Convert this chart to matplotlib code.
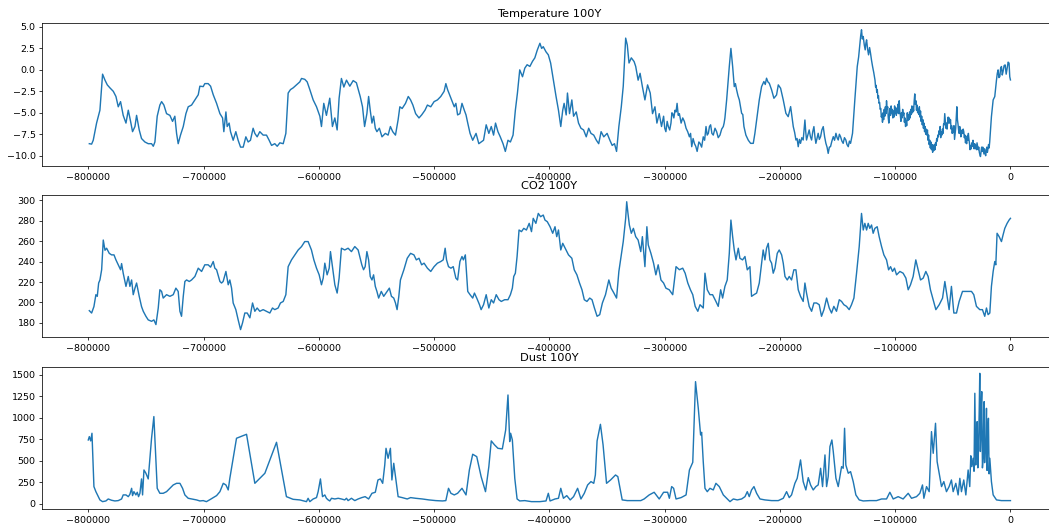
import matplotlib
matplotlib.use("Agg")
import matplotlib.pyplot as plt
import numpy as np

# ages in thousands of years (negative = before present)
temp_age = [
    -799.1, -797.1, -795.7, -792.8, -789.9, -787.6, -785.5, -783.5, -781.2, -778.3,
    -776.0, -774.0, -772.0, -769.7, -767.3, -765.3, -763.3, -761.6, -759.5, -758.1,
    -755.8, -753.8, -750.9, -748.0, -745.1, -743.6, -742.2, -740.2, -737.9, -736.4,
    -734.4, -732.1, -729.2, -726.9, -724.9, -723.4, -722.0, -720.0, -717.6, -715.3,
    -713.3, -710.4, -707.5, -704.6, -703.2, -700.3, -698.9, -696.0, -693.9, -691.6,
    -688.7, -685.8, -683.5, -682.4, -680.6, -679.5, -677.8, -676.6, -674.3, -672.0,
    -670.0, -667.9, -665.6, -663.3, -661.3, -659.3, -657.0, -655.5, -653.5, -651.2,
    -648.3, -645.4, -643.1, -641.0, -638.2, -636.1, -633.8, -630.9, -628.6, -626.6,
    -624.6, -622.3, -619.4, -616.5, -615.0, -612.2, -610.1, -607.8, -604.9, -602.0,
    -599.1, -597.7, -595.7, -593.4, -590.5, -588.2, -586.1, -584.1, -582.4, -580.4,
    -578.3, -576.0, -573.1, -570.2, -567.4,
    -564.1, -562.1, -560.3, -558.3, -556.8, -555.4, -553.9, -552.5, -551.0, -549.6,
    -547.5, -545.2, -542.3, -539.9, -537.9, -535.9, -533.5, -531.2, -529.7, -527.7,
    -524.8, -522.4, -520.4, -518.4, -516.0, -513.1, -510.8, -507.9, -505.8, -502.9,
    -500.0, -497.1, -494.2, -491.3, -489.8, -488.3, -485.4, -482.5, -481.1, -479.6,
    -477.6, -475.8, -473.8, -472.3, -470.8, -468.8, -466.5, -463.6, -461.2, -459.1,
    -457.1, -454.8, -452.5, -450.4, -448.4, -446.7, -444.6, -442.6, -440.2, -438.2,
    -435.9, -433.8, -431.5, -429.5, -427.7, -425.7, -423.3, -421.3, -419.3, -416.9,
    -414.6, -412.6, -410.5, -408.2, -406.7, -405.3, -402.9, -400.9, -398.9, -396.5,
    -394.2, -392.1, -390.1, -388.4, -387.2, -385.4, -384.3, -382.5, -380.5, -379.0,
    -376.7, -374.7, -372.6, -370.3, -368.0, -365.9, -363.9, -361.5, -359.2, -357.2,
    -355.1, -352.8, -349.9, -347.5, -345.5, -343.5, -341.7, -339.7, -337.6, -335.9,
    -333.8, -332.4, -330.9, -328.9, -326.5, -325.1, -323.0, -321.3, -319.3, -317.1,
    -314.8, -312.5, -310.5, -308.4, -306.7, -304.7, -302.7,
    -300.9, -299.9, -298.9, -297.8, -296.8, -295.6, -294.5, -293.7, -293.0, -292.0,
    -291.0, -290.1, -289.2, -288.2, -287.2, -285.7, -284.3, -282.9, -281.4, -280.0,
    -278.5, -277.5, -276.5, -275.3, -274.1, -273.0, -271.8, -270.3,
    -269.3, -267.9, -266.5, -265.3, -264.1, -263.1, -262.1, -261.1, -260.1, -259.0,
    -257.8, -256.3, -254.9, -253.5, -252.0, -250.5, -249.1, -248.4, -247.7, -246.2,
    -243.9, -242.5, -241.0, -239.6, -238.6, -237.6, -236.4, -235.2, -233.2, -232.2,
    -231.2, -229.5, -227.4, -225.4, -223.1, -221.7, -220.2, -217.9, -215.9, -213.9,
    -212.7, -211.6, -210.4, -209.2, -207.2, -205.2, -202.9, -201.4, -199.4, -197.1,
    -194.8, -192.8, -190.7, -188.4, -187.2, -186.1, -185.1, -184.1, -183.1, -182.1,
    -181.0, -179.8, -179.0, -178.3, -177.6, -176.9, -175.8, -174.6, -173.5, -172.5,
    -171.5, -170.5, -169.6, -168.8, -167.8, -166.8, -165.8, -164.7, -163.6, -162.4,
    -161.2, -160.1, -159.1, -158.1, -157.1, -156.1, -154.9, -153.7, -152.6, -151.4,
    -150.4, -149.4, -148.4, -147.4, -146.2, -145.1, -144.0, -142.8, -141.8, -140.7,
    -139.7, -138.7, -137.9, -137.0, -135.0, -132.9, -131.7, -130.6, -129.9, -129.2,
    -128.5, -127.7, -126.8, -126.0, -125.4, -124.8, -123.9, -123.1, -122.2, -121.4,
    -120.5, -119.6, -118.6,
    -117.5, -117.0, -116.5, -116.0, -115.5, -115.0, -114.5, -114.0, -113.5, -113.0,
    -112.5, -112.0, -111.5, -111.0, -110.5, -110.0, -109.5, -109.0, -108.5, -108.0,
    -107.5, -107.0, -106.5, -106.0, -105.5, -105.0, -104.5, -104.0, -103.5, -103.0,
    -102.5, -102.0, -101.5, -101.0, -100.5, -100.0, -99.5, -99.0, -98.5, -98.0,
    -97.5, -97.0, -96.5, -96.0, -95.5, -95.0, -94.5, -94.0, -93.5, -93.0,
    -92.5, -92.0, -91.5, -91.0, -90.5, -90.0, -89.5, -89.0, -88.5, -88.0,
    -87.5, -87.0, -86.5, -86.0, -85.5, -85.0, -84.5, -84.0, -83.5, -83.0,
    -82.5, -82.0, -81.5, -81.0, -80.5, -80.0, -79.5, -79.0, -78.5, -78.0,
    -77.5, -77.0, -76.5, -76.0, -75.5, -75.0, -74.5, -74.0, -73.5, -73.0,
    -72.5, -72.0, -71.5, -71.0, -70.5, -70.0, -69.5, -69.0, -68.5, -68.0,
    -67.5, -67.0, -66.5, -66.0, -65.5, -65.0, -64.5, -64.0, -63.5, -63.0,
    -62.5, -62.0, -61.5, -61.0, -60.5, -60.0, -59.5, -59.0, -58.5, -58.0,
    -57.5, -57.0, -56.5, -56.0, -55.5, -55.0, -54.5, -54.0, -53.5, -53.0,
    -52.5, -52.0, -51.5, -51.0, -50.5, -50.0, -49.5, -49.0, -48.5, -48.0,
    -47.5, -47.0, -46.5, -46.0, -45.5, -45.0, -44.5, -44.0, -43.5, -43.0,
    -42.5, -42.0, -41.5, -41.0, -40.5, -40.0, -39.5, -39.0, -38.5, -38.0,
    -37.5, -37.0, -36.5, -36.0, -35.5, -35.0, -34.5, -34.0, -33.5, -33.0,
    -32.5, -32.0, -31.5, -31.0, -30.5, -30.0, -29.5, -29.0, -28.5, -28.0,
    -27.5, -27.0, -26.5, -26.0, -25.5, -25.0, -24.5, -24.0, -23.5, -23.0,
    -22.5, -22.0, -21.5, -21.0, -20.5, -20.0, -19.5, -19.0, -18.5, -18.0,
    -16.5, -15.0, -13.6, -12.1, -11.4, -10.7, -10.0, -9.2, -8.5, -7.8,
    -7.1, -6.4, -5.5, -4.6, -3.7, -2.9, -2.0, -1.2, -0.6, 0.0,
]
temp_val = [
    -8.6, -8.65, -8.2, -6.2, -4.7, -0.5, -1.2, -1.75, -2.1, -2.5,
    -3.1, -4.3, -3.7, -5.3, -6.2, -4.7, -6.0, -7.2, -6.6, -5.3,
    -7.0, -8.0, -8.4, -8.6, -8.6, -8.9, -8.4, -5.4, -4.1, -3.7,
    -4.1, -5.1, -5.3, -6.0, -5.4, -7.4, -8.6, -7.6, -6.6, -5.1,
    -4.3, -4.1, -3.5, -2.9, -1.9, -1.95, -1.6, -1.6, -1.9, -2.9,
    -3.9, -5.1, -5.6, -7.2, -4.9, -6.6, -6.2, -7.2, -8.2, -7.2,
    -8.2, -9.0, -9.0, -7.8, -8.4, -8.2, -6.8, -7.4, -7.8, -7.2,
    -7.6, -7.6, -8.2, -8.8, -8.6, -8.9, -8.5, -8.6, -7.4, -2.7,
    -2.3, -2.1, -1.75, -1.4, -1.0, -1.1, -1.4, -2.3, -3.5, -4.3,
    -5.4, -6.6, -3.9, -5.3, -3.3, -6.6, -5.6, -7.0, -3.3, -1.0,
    -2.0, -1.2, -1.9, -1.25, -1.5,
    -3.1, -4.3, -6.6, -5.1, -3.1, -4.7, -6.2, -5.4, -6.8, -7.2,
    -6.8, -7.8, -7.4, -7.6, -6.6, -7.2, -7.6, -5.8, -4.3, -4.5,
    -3.9, -3.1, -3.5, -4.1, -5.1, -5.6, -5.25, -4.7, -4.1, -4.3,
    -3.7, -3.5, -3.1, -2.5, -1.6, -2.3, -3.3, -4.3, -3.9, -5.25,
    -5.1, -3.9, -4.7, -5.25, -6.2, -7.4, -8.2, -7.4, -8.6, -8.4,
    -8.2, -6.4, -7.4, -6.6, -7.6, -6.2, -7.2, -7.8, -8.6, -9.5,
    -8.2, -8.4, -7.6, -4.7, -2.7, 0.0, -0.8, 0.2, 0.6, 0.4,
    1.0, 1.4, 2.3, 3.1, 2.5, 2.7, 2.1, 1.75, 0.8, -1.2,
    -3.1, -4.7, -6.6, -4.7, -3.9, -5.25, -2.7, -5.1, -3.5, -5.4,
    -4.9, -6.2, -6.8, -7.0, -7.8, -6.8, -7.4, -7.6, -8.2, -8.6,
    -7.2, -7.8, -7.4, -8.2, -8.8, -8.6, -9.5, -6.6, -4.3, -1.9,
    3.7, 2.9, 0.8, 1.4, 0.97, 0.4, -1.2, -0.4, -1.95, -3.5,
    -1.75, -2.7, -5.1, -4.3, -6.2, -5.1, -6.6,
    -5.4, -6.8, -7.2, -6.0, -6.6, -7.0, -6.2, -5.0, -5.1, -5.6,
    -4.7, -4.9, -3.9, -5.3, -5.1, -6.2, -5.6, -6.0, -6.8, -7.2,
    -7.8, -7.4, -8.95, -8.0, -8.6, -8.9, -9.5, -8.4,
    -8.56, -9.0, -7.8, -8.2, -6.6, -7.6, -7.4, -6.6, -6.4, -7.4,
    -7.6, -6.8, -7.2, -7.9, -7.6, -6.9, -6.6, -6.2, -5.6, -3.5,
    0.4, 2.5, 0.4, -1.95, -1.6, -2.3, -3.0, -3.5, -5.06, -5.2,
    -6.6, -7.6, -8.2, -8.56, -8.56, -7.4, -5.84, -3.5, -1.95, -1.36,
    -1.7, -0.97, -1.4, -1.56, -2.33, -3.31, -2.92, -1.75, -2.14, -3.5,
    -5.06, -5.45, -4.28, -6.61, -7.3, -8.17, -8.0, -8.95, -8.1, -8.56,
    -7.9, -8.17, -7.0, -5.84, -7.2, -8.17, -7.6, -7.0, -7.8, -8.17,
    -7.2, -6.61, -7.8, -8.56, -8.0, -7.39, -8.1, -7.78, -7.0, -6.61,
    -7.8, -8.56, -9.0, -9.73, -9.0, -8.95, -8.3, -7.78, -8.2, -7.39,
    -7.9, -8.17, -7.5, -7.78, -8.3, -8.56, -7.9, -8.17, -8.7, -8.95,
    -8.3, -8.56, -8.0, -7.39, -3.5, 0.39, 1.5, 3.11, 4.0, 4.67,
    3.6, 3.89, 2.9, 2.33, 3.1, 3.5, 2.4, 1.75, 2.6, 1.95,
    1.1, 0.39, -0.3,
    -1.2, -2.0, -1.8, -2.6, -2.3, -3.3, -3.0, -3.9, -3.8, -4.6,
    -4.5, -5.5, -5.2, -6.1, -5.0, -5.8, -4.6, -5.4, -4.3, -5.1,
    -3.6, -4.6, -4.3, -5.6, -6.2, -5.4, -4.5, -5.3, -4.2, -5.0,
    -4.6, -5.6, -4.8, -5.5, -4.2, -5.0, -4.4, -5.3, -4.6, -5.0,
    -4.0, -5.1, -3.6, -4.9, -5.3, -6.0, -5.0, -5.6, -4.6, -5.3,
    -5.0, -6.1, -5.6, -6.6, -5.9, -6.5, -5.0, -5.9, -5.2, -5.8,
    -4.9, -5.6, -4.6, -5.2, -4.2, -5.0, -4.3, -4.8, -3.6, -2.8,
    -4.0, -3.6, -4.7, -4.1, -5.0, -4.6, -5.2, -4.3, -5.5, -4.8,
    -6.0, -5.4, -6.4, -5.8, -6.8, -6.2, -7.2, -6.6, -7.5, -6.9,
    -7.6, -7.0, -8.2, -7.6, -8.7, -8.2, -9.1, -8.4, -9.3, -8.7,
    -9.6, -8.8, -9.4, -8.7, -9.3, -8.5, -8.8, -8.0, -8.3, -7.6,
    -7.8, -7.1, -7.5, -6.6, -7.9, -7.2, -7.6, -6.9, -7.4, -6.3,
    -6.4, -5.1, -6.0, -6.8, -6.2, -6.9, -6.1, -5.5, -6.2, -5.6,
    -6.2, -5.8, -6.9, -6.5, -7.4, -6.8, -7.3, -6.5, -8.1, -7.4,
    -6.8, -5.6, -4.3, -5.8, -6.3, -7.0, -7.4, -6.6, -7.1, -7.8,
    -7.5, -7.0, -7.4, -6.9, -7.2, -7.9, -7.6, -8.5, -8.0, -8.6,
    -7.7, -8.2, -7.4, -8.1, -8.6, -9.3, -8.8, -9.2, -8.5, -8.9,
    -8.2, -8.8, -9.2, -8.6, -9.1, -8.8, -9.3, -8.5, -8.9, -9.3,
    -9.0, -9.6, -9.9, -10.1, -9.5, -9.0, -9.5, -9.0, -9.4, -9.8,
    -9.2, -9.7, -10.0, -9.4, -9.0, -9.6, -9.2, -8.7, -9.1, -8.4,
    -5.45, -3.5, -3.11, -1.17, -0.4, 0.0, -0.9, -0.78, 0.2, 0.39,
    -0.6, -0.19, 0.5, 0.58, -0.5, 0.19, 0.9, 0.78, -0.8, -1.17,
]

co2_age = [
    -799.1, -797.1, -795.1, -793.4, -792.2, -791.0, -789.9, -788.4, -787.0, -785.5,
    -784.1, -781.8, -779.8, -777.7, -776.0, -774.0, -772.0, -771.1, -769.7, -767.3,
    -765.3, -763.9, -762.4, -761.0, -759.5, -758.1, -755.8, -753.8, -752.3, -750.0,
    -748.0, -745.1, -743.1, -741.3, -739.3, -737.9, -736.4, -735.0, -732.1, -729.2,
    -726.3, -724.0, -722.0, -720.5, -719.1, -717.6, -716.2, -714.7, -712.4, -710.4,
    -707.5, -704.6, -701.7, -698.9, -696.0, -693.9, -691.6, -690.2, -688.7, -685.8,
    -684.4, -683.0, -680.6, -678.6, -677.2, -675.7, -674.3, -672.0, -670.0, -667.9,
    -666.2, -664.2, -662.1, -659.8, -657.5, -655.5, -653.5, -651.2, -648.3, -645.4,
    -642.5, -640.2, -638.2, -635.3, -633.3, -630.9, -628.6, -626.6, -623.7, -620.8,
    -617.9, -615.0, -612.2, -609.3, -606.4, -604.3, -602.0, -599.7, -597.7, -596.2,
    -594.8, -592.8, -591.0, -589.9, -588.2, -586.1, -584.1, -582.4, -580.4, -577.5,
    -574.6, -571.7, -568.8, -565.9,
    -562.7, -561.2, -559.8, -558.3, -556.8, -555.4, -553.9, -552.5, -551.0, -549.6,
    -548.1, -545.8, -543.7, -540.8, -538.8, -537.0, -535.0, -533.5, -532.1, -530.6,
    -529.2, -526.2, -523.3, -520.4, -517.5, -515.4, -513.1, -510.8, -508.7, -505.8,
    -502.9, -500.0, -497.1, -494.2, -492.1, -490.4, -489.2, -487.5, -485.4, -483.4,
    -481.1, -479.6, -477.6, -475.8, -474.6, -472.9, -470.8, -468.8, -466.5, -465.0,
    -463.0, -460.6, -459.2, -457.1, -454.8, -452.5, -450.4, -448.4, -446.1, -443.7,
    -441.7, -438.8, -435.9, -433.8, -432.1, -430.9, -429.5, -428.0, -426.3, -424.2,
    -422.2, -419.9, -417.5, -415.5, -414.0, -411.7, -409.6, -407.6, -405.3, -403.8,
    -401.8, -399.4, -397.1, -395.1, -393.6, -392.1, -390.1, -388.4, -386.3, -383.4,
    -380.5, -378.4, -376.1, -373.8, -371.7, -369.7, -367.4, -365.0, -363.0, -360.9,
    -358.6, -356.3, -354.0, -351.3, -348.4, -346.4, -344.0, -341.7, -339.7, -338.2,
    -335.9, -333.8, -332.9, -331.8, -330.6, -328.9, -327.1, -325.1, -323.0, -320.7,
    -319.3, -317.1, -315.4, -314.2, -311.9, -309.6, -307.6, -305.6, -303.2, -300.9,
    -298.9, -296.0, -293.0, -290.1, -287.2, -284.3, -282.2, -279.9, -277.6, -275.6,
    -273.5, -271.2,
    -269.3, -266.5, -265.0, -263.0, -260.7, -258.4, -255.5, -253.5, -251.4, -249.7,
    -247.7, -245.7, -243.9, -242.5, -241.0, -239.6, -238.1, -236.1, -234.7, -232.4,
    -230.3, -228.3, -226.0, -224.6, -222.5, -220.2, -217.9, -215.9, -214.5, -213.0,
    -211.6, -210.1, -208.7, -207.2, -205.8, -204.3, -202.3, -200.6, -198.5, -197.1,
    -195.6, -193.6, -191.9, -189.9, -187.9, -186.1, -184.1, -182.1, -179.8, -178.3,
    -176.9, -174.6, -172.5, -170.5, -168.2, -165.9, -163.9, -161.8, -159.5, -157.2,
    -155.2, -153.2, -150.9, -148.5, -146.5, -144.5, -142.2, -139.9, -137.9, -135.8,
    -133.5, -131.2, -129.2, -127.7, -126.3, -124.8, -123.4, -122.0, -120.5, -119.1,
    -117.6, -115.6, -113.9, -111.8, -109.8, -107.5, -105.7, -104.0, -102.3, -100.6,
    -98.8, -95.9, -93.1, -90.7, -88.7, -86.7, -84.4, -82.1, -80.1, -78.0,
    -75.7, -73.4, -71.4, -69.4, -67.0, -64.7, -61.8, -58.9, -56.9, -54.9,
    -53.2, -51.2, -49.1, -46.8, -44.5, -41.6, -38.1, -33.8, -31.8, -29.5,
    -26.6, -24.3, -22.3, -20.8, -19.4, -17.9, -16.5, -15.0, -13.6, -12.7,
    -11.6, -9.8, -7.8, -6.4, -4.9, -2.9, -1.2, 0.0,
]
co2_val = [
    192, 189.7, 196, 207.6, 206, 219, 222, 232, 261, 251,
    253, 248, 246.5, 246.5, 241.6, 236.8, 232, 238, 228.6, 215.7,
    225.4, 215.7, 222, 207.6, 214, 219, 206, 196, 191.4, 186.5,
    183, 181.6, 183, 178.4, 194.6, 212.4, 210.8, 204.3, 207.6, 206,
    207.6, 214, 210.8, 191.4, 186.5, 206, 220.5, 222, 220.5, 222,
    225.4, 233.5, 230.3, 236.8, 236.8, 234.5, 240, 233.5, 232, 220.5,
    219, 220.5, 230.3, 217.3, 222, 214, 199.5, 193, 183.2, 173.5,
    180, 189.7, 189.7, 185, 199.5, 191.4, 194.6, 191.4, 193, 191.4,
    189.7, 194.6, 193, 194.6, 199.5, 201, 207.6, 235, 241.6, 246.5,
    251.3, 254.6, 259.5, 259.5, 251.3, 241.6, 233.5, 227, 217.3, 223.8,
    238.4, 227, 233.5, 249.7, 235, 217.3, 209.2, 223.8, 253, 251.3,
    253, 249.7, 254.6, 251.3,
    236.8, 232, 235, 249.7, 241.6, 225.4, 222, 227, 215.7, 210.8,
    204.3, 210.8, 206, 210.8, 214, 206, 204.3, 199.5, 193, 206,
    222, 232, 243.2, 248, 246.5, 241.6, 243.2, 236.8, 238.4, 233.5,
    230.3, 235, 238.4, 240, 241.6, 253, 241.6, 235, 233.5, 235,
    223.8, 222, 240, 244.9, 241.6, 246.5, 210.8, 207.6, 204.3, 209.2,
    204.3, 197.8, 193, 197.8, 207.6, 194.6, 202.7, 199.5, 207.6, 202.7,
    201, 202.7, 202.7, 207.6, 214, 225.4, 228.6, 244.9, 270.8, 269.2,
    272.4, 270.8, 277.3, 269.2, 282.2, 277.3, 287, 283.8, 285.4, 280.5,
    278.9, 274, 267.6, 274, 264.3, 270.8, 251.3, 257.8, 253, 246.5,
    243.2, 231.9, 227, 218.9, 212.4, 202.7, 201, 204.3, 202.7, 194.6,
    186.5, 188.1, 199.5, 207.6, 222, 214, 209.2, 204.3, 230.3, 241.6,
    259.5, 282.2, 298.4, 287, 275.7, 267.6, 272.4, 264.3, 261, 249.7,
    264.3, 235, 274, 256.2, 248, 238.4, 227, 236.8, 222, 219,
    214, 212.4, 207.6, 235, 232, 233.5, 228.6, 219, 212.4, 207.6,
    196.2, 191.4,
    197.8, 194.6, 228.6, 212.4, 207.6, 207.6, 201, 196.2, 212.4, 204.3,
    215.7, 222, 248, 280.5, 264.3, 251.3, 241.6, 253, 243.2, 241.6,
    244.9, 231.9, 235, 206, 207.6, 209.2, 219, 238.4, 251.3, 241.6,
    253, 257.8, 241.6, 238.4, 228.6, 233.5, 248, 251.3, 246.5, 238.4,
    225.4, 222, 225.4, 222, 231.9, 231.9, 212.4, 206, 201, 219,
    209.2, 196.2, 191.4, 199.5, 199.5, 197.8, 186.5, 193, 204.3, 194.6,
    189.7, 196.2, 191.4, 202.7, 201, 197.8, 196.2, 193, 197.8, 204.3,
    228.6, 254.6, 287, 270.8, 277.3, 270.8, 277.3, 272.4, 275.7, 267.6,
    272.4, 274, 264.3, 254.6, 246.5, 241.6, 231.9, 235, 230.3, 233.5,
    227, 230.3, 228.6, 223.8, 212.4, 217.3, 225.4, 241.6, 231.9, 222,
    223.8, 230.3, 225.4, 212.4, 202.7, 193, 197.8, 204.3, 220.5, 206,
    193, 215.7, 189.7, 189.7, 201, 210.8, 210.8, 210.8, 207.6, 196.2,
    193, 193, 186.5, 194.6, 188.1, 189.7, 215.7, 230.3, 240, 236.8,
    267.6, 264.3, 259.5, 266, 272.4, 277.3, 280.5, 282.2,
]

dust_age = [
    -800.0, -799.1, -797.9, -796.8, -795.1, -793.4, -791.3, -789.9, -787.6, -784.7,
    -782.7, -779.8, -776.9, -774.0, -771.1, -769.7, -767.3, -765.3, -763.9, -762.4,
    -761.6, -760.4, -758.7, -757.5, -756.4, -755.2, -753.8, -752.9, -751.7, -750.0,
    -748.0, -746.5, -745.1, -743.1, -741.6, -740.2, -737.9, -735.0, -732.1, -729.2,
    -726.3, -723.4, -720.5, -718.2, -716.2, -713.3, -710.4, -706.1, -703.2, -700.3,
    -697.5, -694.5, -691.6, -688.7, -685.8, -682.9, -680.6, -678.6, -677.2, -674.3,
    -671.4, -667.9, -662.7, -655.5, -646.8, -636.7, -628.1, -622.3, -616.5, -610.7,
    -609.3, -607.8, -604.9, -602.0, -600.6, -598.6, -596.8, -594.8, -593.4, -591.9,
    -590.5, -589.0, -586.1, -583.2, -580.4, -577.5, -576.0, -574.6, -571.7, -568.8,
    -565.9,
    -562.7, -559.8, -556.8, -553.9, -551.0, -548.7, -546.6, -544.6, -542.8, -541.7,
    -539.9, -537.9, -536.6, -535.0, -533.5, -531.2, -527.7, -523.3, -520.4, -516.0,
    -510.2, -504.4, -498.5, -492.7, -489.8, -487.5, -485.4, -482.5, -479.6, -475.8,
    -472.3, -469.4, -466.5, -463.0, -459.2, -455.4, -452.5, -450.4, -447.5, -444.6,
    -440.8, -437.9, -435.9, -434.4, -433.6, -432.1, -430.0, -428.0, -425.7, -421.3,
    -415.5, -408.2, -402.9, -400.9, -399.4, -395.1, -392.1, -390.1, -387.8, -384.9,
    -381.9, -379.0, -375.5, -372.6, -369.7, -366.8, -363.9, -361.5, -360.1, -358.6,
    -355.7, -353.4, -350.4, -346.9, -342.6, -340.6, -336.8, -332.4, -326.6, -320.7,
    -317.8, -313.4, -309.1, -304.7, -300.9, -297.4, -295.9, -293.9, -292.2, -290.1,
    -285.7, -281.4, -278.5, -275.6, -273.2, -270.8, -268.8, -267.9, -266.5, -265.0,
    -263.0, -260.7, -257.8, -255.5, -252.6, -249.1, -246.2, -243.3, -240.4, -237.0,
    -233.2, -230.3, -228.3, -226.6, -224.6, -222.5, -220.2, -217.3, -213.0, -207.2,
    -201.4, -197.1, -194.2, -191.9, -189.9, -187.0, -185.0, -182.1, -179.8, -177.5,
    -175.4, -173.4, -171.1, -168.8, -166.8, -164.7, -163.0, -160.9, -159.5, -158.1,
    -156.6, -154.9, -153.7, -151.4, -149.4, -146.5, -145.1, -143.9, -142.8, -140.7,
    -138.7, -136.4, -134.1, -131.2, -127.7, -122.0, -116.2, -111.8, -107.5, -104.6,
    -101.7, -97.4, -93.1, -88.7, -85.8, -81.5, -78.6, -76.3, -75.1, -72.8,
    -70.5, -68.5, -67.0, -65.0, -63.6, -61.8, -59.8, -57.8, -55.5, -53.2,
    -51.2, -49.7, -47.4, -45.4, -43.9, -42.5, -40.5, -38.7, -36.7, -35.3,
    -34.4, -33.5, -32.4, -31.6, -30.9, -30.1, -29.5, -28.9, -28.3, -27.7,
    -27.1, -26.6, -26.1, -25.7, -25.3, -24.9, -24.3, -23.7, -23.2, -22.8,
    -22.4, -22.0, -21.4, -20.8, -20.3, -19.9, -19.5, -19.1, -18.5, -17.9,
    -16.5, -15.0, -12.1, -7.8, -3.5, 0.0,
]
dust_val = [
    744, 783, 733, 822, 202, 143, 85, 47, 27, 35,
    58, 43, 35, 39, 58, 105, 105, 85, 112, 182,
    97, 143, 105, 136, 85, 124, 291, 105, 395, 357,
    291, 531, 764, 1016, 570, 182, 124, 124, 143, 182,
    221, 240, 240, 182, 105, 66, 58, 47, 35, 39,
    27, 50, 74, 97, 143, 240, 221, 163, 298, 531,
    764, 783, 810, 240, 357, 717, 85, 54, 47, 27,
    66, 27, 58, 74, 143, 291, 85, 105, 66, 47,
    35, 66, 58, 66, 58, 47, 66, 39, 66, 39,
    58,
    74, 85, 58, 124, 136, 279, 291, 240, 453, 647,
    531, 647, 279, 473, 318, 85, 74, 58, 74, 66,
    58, 47, 39, 35, 39, 182, 124, 105, 124, 182,
    105, 395, 578, 550, 318, 143, 434, 733, 686, 647,
    640, 860, 1267, 725, 822, 744, 298, 58, 35, 39,
    27, 27, 35, 124, 35, 58, 66, 182, 66, 97,
    47, 85, 182, 58, 124, 221, 260, 240, 337, 733,
    926, 686, 240, 279, 337, 318, 47, 39, 39, 39,
    58, 105, 136, 58, 136, 136, 66, 202, 182, 58,
    74, 105, 395, 484, 1422, 1112, 802, 833, 492, 182,
    143, 182, 163, 240, 202, 105, 66, 27, 58, 47,
    58, 85, 143, 85, 163, 202, 124, 58, 47, 39,
    39, 66, 143, 74, 105, 240, 298, 512, 260, 163,
    306, 221, 163, 202, 221, 415, 202, 570, 202, 318,
    667, 744, 609, 298, 202, 434, 415, 880, 453, 357,
    376, 260, 105, 47, 35, 39, 39, 58, 58, 136,
    58, 85, 58, 124, 66, 85, 124, 221, 66, 202,
    143, 841, 589, 938, 492, 357, 202, 260, 143, 202,
    279, 143, 240, 105, 298, 143, 279, 105, 395, 202,
    560, 434, 531, 380, 1287, 453, 820, 957, 420, 647,
    1080, 1519, 610, 764, 1150, 1306, 420, 531, 980, 1190,
    480, 609, 700, 1112, 390, 647, 860, 996, 350, 531,
    260, 105, 47, 39, 39, 39,
]

titles = ["Temperature 100Y", "CO2 100Y", "Dust 100Y"]
x_ticks = [-800000, -700000, -600000, -500000, -400000, -300000, -200000, -100000, 0]
y_ticks = [
    [-10.0, -7.5, -5.0, -2.5, 0.0, 2.5, 5.0],
    [180, 200, 220, 240, 260, 280, 300],
    [0, 250, 500, 750, 1000, 1250, 1500],
]
y_lims = [(-11.2, 5.5), (166, 305), (-62, 1596)]

series = [(temp_age, temp_val), (co2_age, co2_val), (dust_age, dust_val)]

# small dpi so default font sizes match the downscaled original
fig = plt.figure(figsize=(1049 / 68, 527 / 68), dpi=68)
boxes = [
    [0.0402, 0.685, 0.967, 0.272],
    [0.0402, 0.360, 0.967, 0.270],
    [0.0402, 0.0336, 0.967, 0.2706],
]

for box, (age, val), title, yt, yl in zip(boxes, series, titles, y_ticks, y_lims):
    ax = fig.add_axes(box)
    ax.plot(np.array(age) * 1000, val, color="#1f77b4")
    ax.set_title(title)
    ax.set_xlim(-840000, 40000)
    ax.set_xticks(x_ticks)
    ax.set_yticks(yt)
    ax.set_ylim(*yl)
    # the original image is cropped just before the right edge of the axes
    ax.spines["right"].set_visible(False)

fig.savefig("out.png", dpi=68)
